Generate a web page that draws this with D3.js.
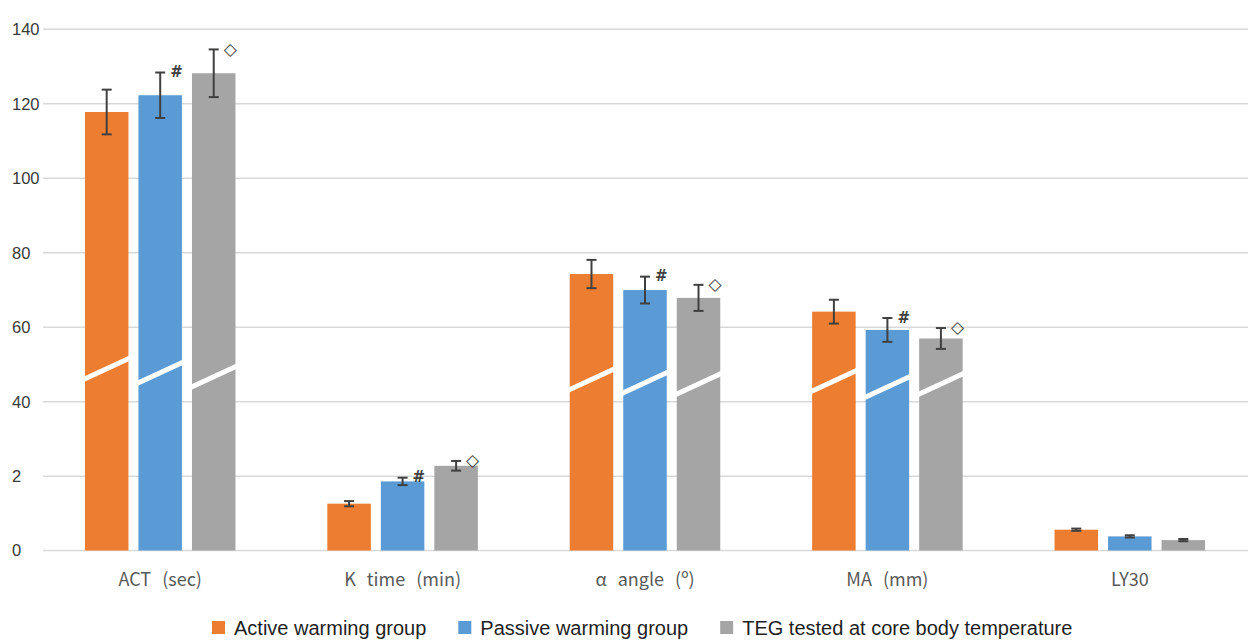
<!DOCTYPE html>
<html>
<head>
<meta charset="utf-8">
<script src="https://cdn.jsdelivr.net/npm/d3@7/dist/d3.min.js"></script>
<style>
  html, body { margin: 0; padding: 0; background: #fff; }
  svg { display: block; }
</style>
</head>
<body>
<svg id="chart" width="1248" height="641"></svg>
<script>
// ---- data ----
const categories = ["ACT (sec)", "K time (min)", "α angle (º)", "MA (mm)", "LY30"];
const seriesNames = ["Active warming group", "Passive warming group", "TEG tested at core body temperature"];
const activeValues  = [117.8, 1.26, 74.3, 64.2, 0.56];
const passiveValues = [122.3, 1.86, 70.0, 59.3, 0.38];
const tegValues     = [128.2, 2.28, 67.9, 57.0, 0.28];
const activeErr  = [6.0, 0.07, 3.8, 3.2, 0.03];
const passiveErr = [6.1, 0.10, 3.6, 3.2, 0.03];
const tegErr     = [6.4, 0.13, 3.5, 2.8, 0.03];
const passiveMark = ["#", "#", "#", "#", ""];
const tegMark     = ["◇", "◇", "◇", "◇", ""];
// value (in data units) where the axis-break slash crosses each bar; null = no break
const activeBreak  = [48.9, null, 46.0, 45.6, null];
const passiveBreak = [47.8, null, 45.1, 44.0, null];
const tegBreak     = [46.7, null, 44.8, 44.8, null];
const tickValues = [0, 2, 40, 60, 80, 100, 120, 140];
const tickLabels = ["0", "2", "40", "60", "80", "100", "120", "140"];

const colors = ["#ED7D31", "#5B9BD5", "#A5A5A5"];

const series = [
  { name: seriesNames[0], values: activeValues,  err: activeErr,  mark: null,        brk: activeBreak },
  { name: seriesNames[1], values: passiveValues, err: passiveErr, mark: passiveMark, brk: passiveBreak },
  { name: seriesNames[2], values: tegValues,     err: tegErr,     mark: tegMark,     brk: tegBreak }
];

const svg = d3.select("#chart");

// broken axis: 0..3 linear at small scale, 40..140 linear at large scale
const y = d3.scaleLinear()
  .domain([0, 3, 40, 140])
  .range([550.5, 439.05, 401.8, 29.3]);

const x0 = d3.scaleBand().domain(categories).range([39, 1251])
  .paddingInner(0.379).paddingOuter(0.1895);
const x1 = d3.scaleBand().domain(seriesNames).range([0, x0.bandwidth()])
  .paddingInner(0.187);

// gridlines
svg.append("g").selectAll("line").data(tickValues).join("line")
  .attr("x1", 43).attr("x2", 1248)
  .attr("y1", d => y(d)).attr("y2", d => y(d))
  .attr("stroke", "#d9d9d9").attr("stroke-width", 1.5);

// tick labels
svg.append("g").selectAll("text").data(tickValues).join("text")
  .attr("x", 12).attr("y", d => y(d))
  .attr("dy", "0.36em")
  .attr("font-family", "Liberation Sans, Arial, sans-serif")
  .attr("font-size", 16.5)
  .attr("fill", "#3a3a3a")
  .text((d, i) => tickLabels[i]);

// bars
const groups = svg.append("g").selectAll("g").data(categories).join("g")
  .attr("transform", d => `translate(${x0(d)},0)`);

series.forEach((s, si) => {
  const bw = x1.bandwidth();
  groups.append("rect")
    .attr("x", x1(s.name))
    .attr("width", bw)
    .attr("y", (c, ci) => y(s.values[ci]))
    .attr("height", (c, ci) => y(0) - y(s.values[ci]))
    .attr("fill", colors[si]);

  // break slashes
  groups.filter((c, ci) => s.brk[ci] != null).append("line")
    .attr("x1", x1(s.name) - 2)
    .attr("x2", x1(s.name) + bw + 2)
    .attr("y1", c => y(s.brk[categories.indexOf(c)]) + 11)
    .attr("y2", c => y(s.brk[categories.indexOf(c)]) - 11)
    .attr("stroke", "#fff").attr("stroke-width", 5);
});

// error bars + marks
series.forEach((s, si) => {
  const cx = x1(s.name) + x1.bandwidth() / 2;
  const eg = groups.append("g");
  const cap = 5;
  eg.append("line")
    .attr("x1", cx).attr("x2", cx)
    .attr("y1", (c, ci) => y(s.values[ci] + s.err[ci]))
    .attr("y2", (c, ci) => y(s.values[ci] - s.err[ci]))
    .attr("stroke", "#404040").attr("stroke-width", 2);
  eg.append("line")
    .attr("x1", cx - cap).attr("x2", cx + cap)
    .attr("y1", (c, ci) => y(s.values[ci] + s.err[ci]))
    .attr("y2", (c, ci) => y(s.values[ci] + s.err[ci]))
    .attr("stroke", "#404040").attr("stroke-width", 2);
  eg.append("line")
    .attr("x1", cx - cap).attr("x2", cx + cap)
    .attr("y1", (c, ci) => y(s.values[ci] - s.err[ci]))
    .attr("y2", (c, ci) => y(s.values[ci] - s.err[ci]))
    .attr("stroke", "#404040").attr("stroke-width", 2);
  if (s.mark) {
    eg.append("text")
      .attr("x", cx + 10)
      .attr("y", (c, ci) => y(s.values[ci] + s.err[ci]))
      .attr("dy", "0.32em")
      .attr("font-family", "DejaVu Sans, sans-serif")
      .attr("font-size", si === 1 ? 15 : 17)
      .attr("font-weight", si === 1 ? "bold" : "normal")
      .attr("fill", "#404040")
      .text((c, ci) => s.mark[ci]);
  }
});

// category labels
svg.append("g").selectAll("text").data(categories).join("text")
  .attr("x", d => x0(d) + x0.bandwidth() / 2)
  .attr("y", 586)
  .attr("text-anchor", "middle")
  .attr("font-family", "Noto Sans CJK KR, Noto Sans, sans-serif")
  .attr("font-size", 18)
  .attr("fill", "#595959")
  .style("word-spacing", "7px")
  .text(d => d);

// legend
const legend = svg.append("g");
let lx = 212;
seriesNames.forEach((n, i) => {
  legend.append("rect").attr("x", lx).attr("y", 621).attr("width", 13).attr("height", 13)
    .attr("fill", colors[i]);
  const t = legend.append("text").attr("x", lx + 22).attr("y", 635)
    .attr("font-family", "Liberation Sans, Arial, sans-serif")
    .attr("font-size", 20)
    .attr("fill", "#1f1f1f")
    .text(n);
  lx = lx + 22 + t.node().getComputedTextLength() + 32;
});
</script>
</body>
</html>
